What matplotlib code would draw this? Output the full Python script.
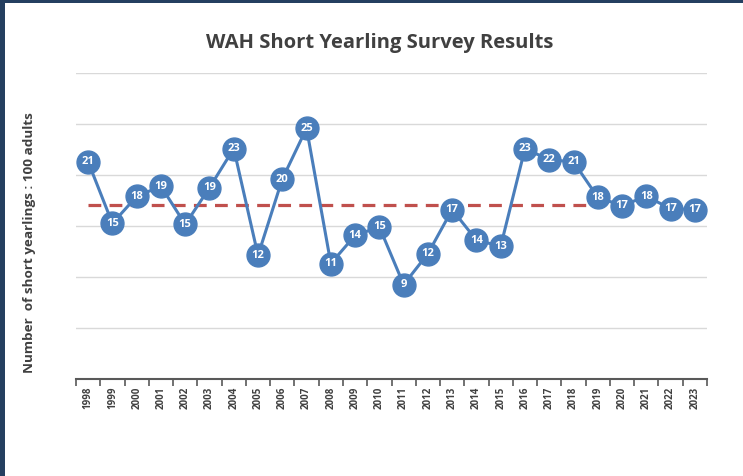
import matplotlib.pyplot as plt
import numpy as np
from matplotlib.patches import Rectangle

plt.rcParams['font.family'] = ['Open Sans', 'DejaVu Sans']

# survey values (labels are the rounded numbers shown)
years = [str(y) for y in range(1998, 2024)]
ratio = [21.3, 15.25, 17.9, 18.9, 15.15, 18.75, 22.6, 12.1, 19.6, 24.6, 11.3, 14.07, 14.9,
         9.23, 12.27, 16.6, 13.6, 13.0, 22.6, 21.5, 21.3, 17.8, 17.0, 17.9, 16.7, 16.6]
ratio_labels = [21, 15, 18, 19, 15, 19, 23, 12, 20, 25, 11, 14, 15,
                9, 12, 17, 14, 13, 23, 22, 21, 18, 17, 18, 17, 17]
avg_value = 17.08
avg_last_year = "2019"

blue = '#4a7ebb'
red = '#c0504d'

fig = plt.figure(figsize=(7.43, 4.76), dpi=100)
ax = fig.add_axes([76/743, 1-378.5/476, (707-76)/743, (378.5-73.3)/476])

x = np.arange(len(years))
n_avg = years.index(avg_last_year) + 1
avg_line, = ax.plot(x[:n_avg], [avg_value]*n_avg, color=red, lw=2.3, zorder=2)
avg_line.set_dashes([4, 2.6])

ax.plot(x, ratio, color=blue, lw=2.2, marker='o', ms=16.5, mfc=blue, mec=blue, zorder=3)
for xi, v, lab in zip(x, ratio, ratio_labels):
    ax.text(xi, v, str(lab), ha='center', va='center', color='white',
            fontsize=8, fontweight='bold', zorder=4)

ax.set_xlim(-0.5, len(years) - 0.5)
ax.set_ylim(0, 30)
ax.set_yticks(np.arange(5, 31, 5))
ax.yaxis.grid(True, color='#d9d9d9', lw=1)
ax.set_axisbelow(True)
ax.tick_params(axis='y', left=False, labelleft=False)

ax.set_xticks(x)
ax.set_xticklabels(years, rotation=90, fontsize=7, fontweight='bold', color='#404040')
ax.set_xticks(np.arange(-0.5, len(years), 1), minor=True)
ax.tick_params(axis='x', which='major', length=0, pad=6)
ax.tick_params(axis='x', which='minor', length=5, width=1.2, color='#595959', direction='out')

for s in ['top', 'right', 'left']:
    ax.spines[s].set_visible(False)
ax.spines['bottom'].set_color('#595959')
ax.spines['bottom'].set_linewidth(1.5)

fig.text(380/743, 1-43/476, 'WAH Short Yearling Survey Results', ha='center', va='center',
         fontsize=14.5, fontweight='bold', color='#404040')
fig.text(30/743, 1-243/476, 'Number  of short yearlings : 100 adults', rotation=90,
         ha='center', va='center', fontsize=9.7, fontweight='bold', color='#404040')

# dark frame on the left and top edge
fig.patches.append(Rectangle((0, 0), 5/743, 1, transform=fig.transFigure,
                             facecolor='#243f60', edgecolor='none'))
fig.patches.append(Rectangle((0, 1-3/476), 1, 3/476, transform=fig.transFigure,
                             facecolor='#243f60', edgecolor='none'))

fig.savefig('out.png', dpi=100)
